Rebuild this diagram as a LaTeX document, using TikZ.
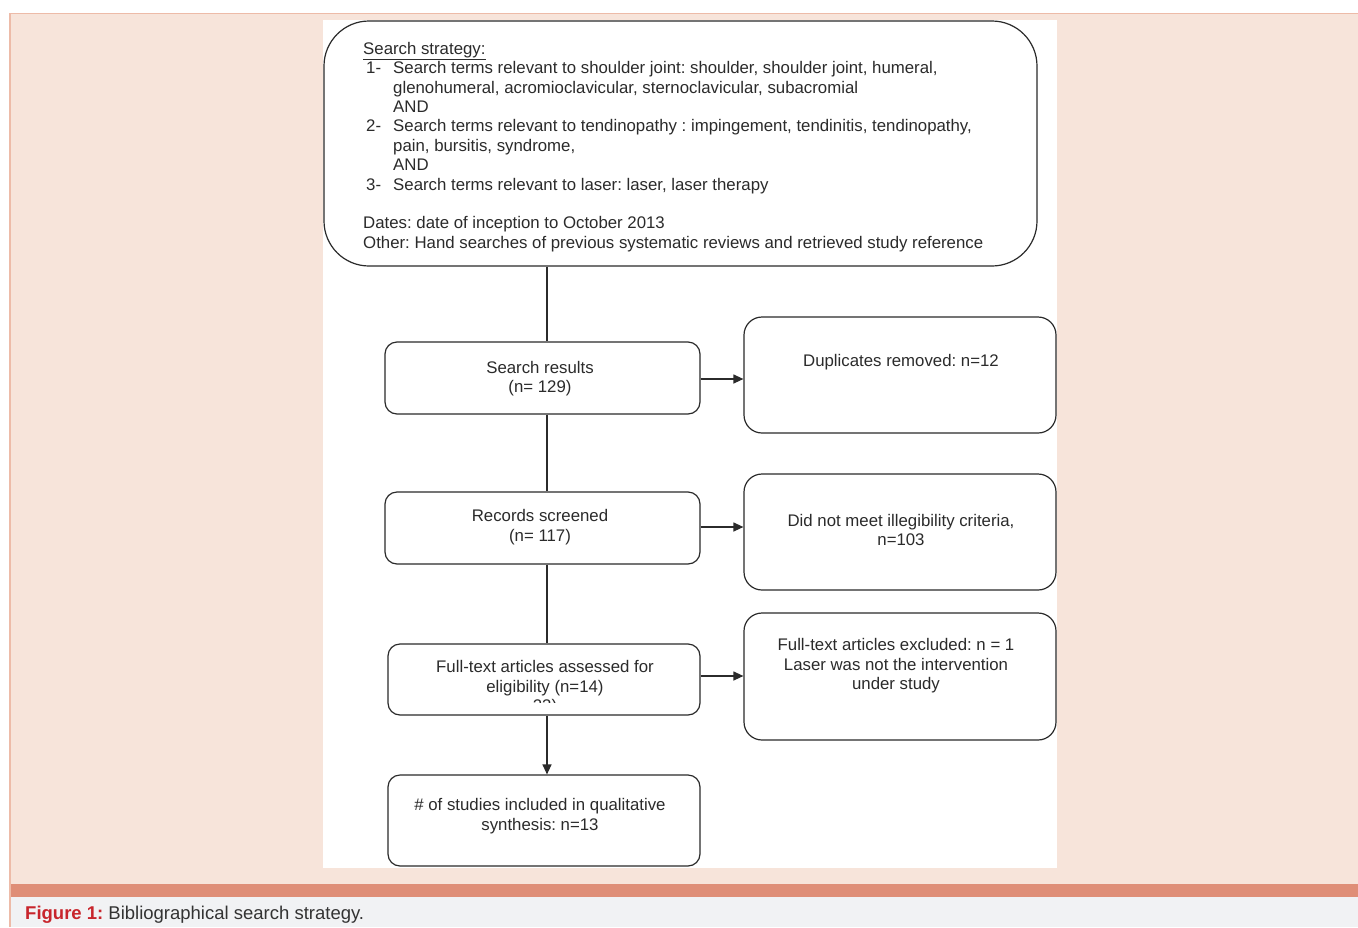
\documentclass[tikz,border=0pt]{standalone}
\usepackage{fontspec}
\setmainfont{Liberation Sans}
\usetikzlibrary{arrows.meta}
\definecolor{pinkbg}{HTML}{F7E4DA}
\definecolor{pinkline}{HTML}{EDBBA8}
\definecolor{band}{HTML}{DF8E77}
\definecolor{capbg}{HTML}{F1F2F4}
\definecolor{capred}{HTML}{C8252C}
\definecolor{captxt}{HTML}{333333}
\definecolor{ink}{HTML}{2B2B2B}
\frenchspacing
\begin{document}
\begin{tikzpicture}[x=1pt,y=-1pt,
 box/.style={draw=ink, line width=1.2pt, rounded corners=12pt, fill=white, inner sep=0pt},
 bigbox/.style={box, rounded corners=18pt},
 txt/.style={font=\fontsize{16.8}{19.4}\selectfont, text=ink, align=center, inner sep=0pt},
 ltxt/.style={font=\fontsize{16.8}{19.4}\selectfont, text=ink, inner sep=0pt, anchor=base west},
 conn/.style={draw=ink, line width=1.2pt},
 arr/.style={conn, -{Triangle[length=10pt,width=9pt]}}]
\useasboundingbox (0,0) rectangle (1358,927);
\fill[white] (0,0) rectangle (1358,927);
\fill[pinkbg] (10,13) rectangle (1358,884);
\fill[band] (10,884) rectangle (1358,897);
\fill[capbg] (10,897) rectangle (1358,927);
\draw[pinkline, line width=1.2pt] (10,927) -- (10,13.5) -- (1358,13.5);
\fill[white] (323,20) rectangle (1057,868);
% boxes
\node[box, rounded corners=45pt, minimum width=713pt, minimum height=245pt] (top) at (680.5,143.5) {};
\node[box, minimum width=315pt, minimum height=72pt] (sr) at (542.5,378) {};
\node[bigbox, minimum width=312pt, minimum height=116pt] (dup) at (900,375) {};
\node[box, minimum width=315pt, minimum height=72pt] (rs) at (542.5,528) {};
\node[bigbox, minimum width=312pt, minimum height=116pt] (dnm) at (900,532) {};
\node[box, minimum width=312pt, minimum height=71pt] (ft) at (544,679.5) {};
\node[bigbox, minimum width=312pt, minimum height=127pt] (exc) at (900,676.5) {};
\node[box, minimum width=312pt, minimum height=91pt] (inc) at (544,820.5) {};
% top box text
\node[ltxt] (h) at (363,54) {\underline{Search strategy:}};
\node[ltxt] (n1) at (366,73) {1-};
\node[ltxt] (l1) at (393,73) {Search terms relevant to shoulder joint: shoulder, shoulder joint, humeral,};
\node[ltxt] (l1b) at (393,93) {glenohumeral, acromioclavicular, sternoclavicular, subacromial};
\node[ltxt] (and1) at (393,112) {AND};
\node[ltxt] (n2) at (366,131) {2-};
\node[ltxt] (l2) at (393,131) {Search terms relevant to tendinopathy : impingement, tendinitis, tendinopathy,};
\node[ltxt] (l2b) at (393,151) {pain, bursitis, syndrome,};
\node[ltxt] (and2) at (393,170) {AND};
\node[ltxt] (n3) at (366,190) {3-};
\node[ltxt] (l3) at (393,190) {Search terms relevant to laser: laser, laser therapy};
\node[ltxt] (dates) at (363,228) {Dates: date of inception to October 2013};
\node[ltxt] (other) at (363,248) {Other: Hand searches of previous systematic reviews and retrieved study reference};
% box texts
\node[txt] (srT) at (540,378.5) {Search results\\(n= 129)};
\node[txt] (dupT) at (901,362) {Duplicates removed: n=12};
\node[txt] (rsT) at (540,527) {Records screened\\(n= 117)};
\node[txt] (dnmT) at (901,530) {Did not meet illegibility criteria,\\n=103};
\node[txt] (ftT) at (545,678) {Full-text articles assessed for\\eligibility (n=14)};
\begin{scope}
\clip (390,690) rectangle (698,702);
\node[ltxt, anchor=base] (ftX) at (545,711) {23)};
\end{scope}
\node[txt] (excT) at (896,666) {Full-text articles excluded: n = 1\\Laser was not the intervention\\under study};
\node[txt] (incT) at (540,816) {\# of studies included in qualitative\\synthesis: n=13};
% connectors
\coordinate (spine) at (547,0);
\draw[conn] (top.south -| spine) -- (sr.north -| spine);
\draw[conn] (sr.south -| spine) -- (rs.north -| spine);
\draw[conn] (rs.south -| spine) -- (ft.north -| spine);
\draw[arr] (ft.south -| spine) -- (inc.north -| spine);
\draw[arr] ([yshift=-1pt]sr.east) -- ([yshift=-1pt]sr.east -| dup.west);
\draw[arr] ([yshift=1pt]rs.east) -- ([yshift=1pt]rs.east -| dnm.west);
\draw[arr] ([yshift=3.5pt]ft.east) -- ([yshift=3.5pt]ft.east -| exc.west);
% caption
\node[inner sep=0pt, anchor=base west, font=\fontsize{18.5}{22}\selectfont, text=captxt] (cap) at (25,919.5) {{\color{capred}\bfseries Figure 1:} Bibliographical search strategy.};
\end{tikzpicture}
\end{document}
